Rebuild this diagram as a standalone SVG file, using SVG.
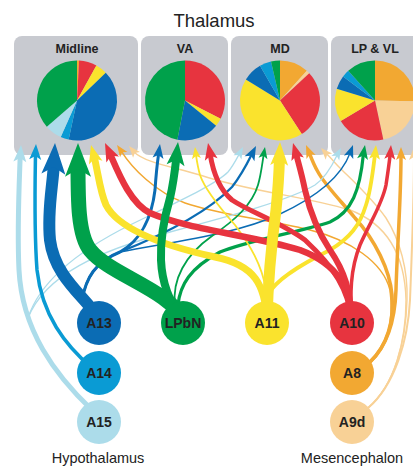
<svg xmlns="http://www.w3.org/2000/svg" xmlns:xlink="http://www.w3.org/1999/xlink" width="413" height="467" viewBox="0 0 413 467">
<style>
.box{fill:#c8cad0}
.t{font-family:"Liberation Sans",Arial,sans-serif;fill:#222;text-anchor:middle}
.bl{font-weight:bold;font-size:12.5px}
.nl{font-weight:bold;font-size:14px}
.rl{font-size:14.5px}
.c path{fill:none;stroke-linecap:butt}
.G{fill:#00a14b}.R{fill:#e7343f}.Y{fill:#fae32d}.DB{fill:#0b6cb4}.MB{fill:#0a9bd4}.LB{fill:#acdcea}.O{fill:#f2a832}.P{fill:#f8d196}
.g{stroke:#00a14b}.r{stroke:#e7343f}.y{stroke:#fae32d}.db{stroke:#0b6cb4}.mb{stroke:#0a9bd4}.lb{stroke:#acdcea}.o{stroke:#f2a832}.p{stroke:#f8d196}
</style>
<defs>
<path id="ah" d="M0,0 L5,13 L0,10 L-5,13 Z"/>
</defs>
<rect width="413" height="467" fill="#fff"/>
<text class="t" x="214" y="27" font-size="18.5">Thalamus</text>

<g id="midline">
<rect class="box" x="14" y="36" width="124" height="119" rx="8"/>
<text class="t bl" x="77" y="53">Midline</text>
<path class="O" d="M77,100.5 L77,60.5 A40,40 0 0 1 79.09,60.56 Z"/>
<path class="R" d="M77,100.5 L79.09,60.56 A40,40 0 0 1 96.39,65.52 Z"/>
<path class="Y" d="M77,100.5 L96.39,65.52 A40,40 0 0 1 105.77,72.71 Z"/>
<path class="DB" d="M77,100.5 L105.77,72.71 A40,40 0 0 1 68.68,139.62 Z"/>
<path class="MB" d="M77,100.5 L68.68,139.62 A40,40 0 0 1 60.73,137.04 Z"/>
<path class="LB" d="M77,100.5 L60.73,137.04 A40,40 0 0 1 46.81,126.74 Z"/>
<path class="G" d="M77,100.5 L46.81,126.74 A40,40 0 0 1 77,60.5 Z"/>
</g>
<g id="va">
<rect class="box" x="141" y="36" width="87" height="119" rx="8"/>
<text class="t bl" x="185" y="53">VA</text>
<path class="R" d="M185,100.5 L185,60.5 A40,40 0 0 1 220.64,118.66 Z"/>
<path class="Y" d="M185,100.5 L220.64,118.66 A40,40 0 0 1 216.09,125.67 Z"/>
<path class="DB" d="M185,100.5 L216.09,125.67 A40,40 0 0 1 177.37,139.76 Z"/>
<path class="G" d="M185,100.5 L177.37,139.76 A40,40 0 0 1 185,60.5 Z"/>
</g>
<g id="md">
<rect class="box" x="231" y="36" width="97" height="119" rx="8"/>
<text class="t bl" x="280" y="53">MD</text>
<path class="O" d="M280,100.5 L280,60.5 A40,40 0 0 1 306.77,70.78 Z"/>
<path class="P" d="M280,100.5 L306.77,70.78 A40,40 0 0 1 309.25,73.22 Z"/>
<path class="R" d="M280,100.5 L309.25,73.22 A40,40 0 0 1 301.79,134.05 Z"/>
<path class="Y" d="M280,100.5 L301.79,134.05 A40,40 0 0 1 245.90,79.60 Z"/>
<path class="DB" d="M280,100.5 L245.90,79.60 A40,40 0 0 1 260,65.86 Z"/>
<path class="MB" d="M280,100.5 L260,65.86 A40,40 0 0 1 271.0,61.53 Z"/>
<path class="G" d="M280,100.5 L271.0,61.53 A40,40 0 0 1 280,60.5 Z"/>
</g>
<g id="lpvl">
<rect class="box" x="331" y="36" width="92" height="119" rx="8"/>
<text class="t bl" x="375" y="53">LP &amp; VL</text>
<path class="O" d="M375,100.5 L375,60.5 A40,40 0 0 1 414.99,101.20 Z"/>
<path class="P" d="M375,100.5 L414.99,101.20 A40,40 0 0 1 383.32,139.62 Z"/>
<path class="R" d="M375,100.5 L383.32,139.62 A40,40 0 0 1 340.71,121.10 Z"/>
<path class="Y" d="M375,100.5 L340.71,121.10 A40,40 0 0 1 336.75,88.80 Z"/>
<path class="DB" d="M375,100.5 L336.75,88.80 A40,40 0 0 1 343.06,76.43 Z"/>
<path class="MB" d="M375,100.5 L343.06,76.43 A40,40 0 0 1 348.24,70.78 Z"/>
<path class="G" d="M375,100.5 L348.24,70.78 A40,40 0 0 1 375,60.5 Z"/>
</g>

<g id="connectors" class="c">
<!-- A9d -->
<path class="p" stroke-width="1.4" d="M368,408 C395,385 406,340 406,300 C405,260 390,225 350,210 C300,195 250,192 200,175 C165,165 145,162 133.9,151.9"/>
<path class="p" stroke-width="1.4" d="M368,408 C395,385 406,340 407,300 C408,270 400,240 386,218 C372,198 352,180 340,168 C335,163 331,158 326.2,153.6"/>
<path class="p" stroke-width="2" d="M368,408 C395,385 408,340 410,300 C412,250 414,200 414,155.5"/>
<!-- A8 -->
<path class="o" stroke-width="1.5" d="M370,362 C388,345 394,320 390,290 C383,262 350,240 310,230 C260,218 220,215 185,203 C155,192 132,168 121.4,151.3"/>
<path class="o" stroke-width="3.5" d="M370,362 C388,345 394,320 392,295 C390,270 375,240 355,218 C340,200 325,185 318,172 C314,165 312,160 309.3,152.8"/>
<path class="o" stroke-width="3.5" d="M370,362 C388,345 395,320 396,290 C397,250 401,200 401,155.5"/>
<!-- A15 thin -->
<path class="lb" stroke-width="1.3" d="M28,318 C40,280 80,250 130,225 C175,203 215,185 228,172 C233,166 236,160 239.4,153.8"/>
<path class="lb" stroke-width="1.3" d="M28,318 C45,275 100,250 170,232 C230,216 290,200 315,185 C325,178 332,166 337.3,154.7"/>
<!-- A13 thin -->
<path class="db" stroke-width="3" d="M82,300 C86,278 95,262 120,252 C142,240 152,215 155,190 C156,175 157,165 158.7,153.3"/>
<path class="db" stroke-width="2.3" d="M82,300 C86,278 95,262 120,252 C160,236 205,215 232,187 C240,177 246,166 251.8,154.3"/>
<path class="db" stroke-width="1.4" d="M82,300 C86,278 95,262 120,252 C170,242 235,235 280,214 C310,200 340,180 350.1,153"/>
<!-- LPbN thin -->
<path class="g" stroke-width="1.8" d="M175,305 C172,280 185,255 212,236 C235,220 252,205 258,185 C261,175 262,165 263.7,154.5"/>
<path class="g" stroke-width="3.2" d="M178,305 C180,285 190,268 220,252 C250,240 300,232 330,222 C352,212 360,190 363.4,154.2"/>
<!-- A11 thin -->
<path class="y" stroke-width="1.8" d="M266,290 C262,265 250,245 235,225 C220,208 205,190 200,175 C198,168 197,162 195.9,154.6"/>
<path class="y" stroke-width="3.8" d="M268,295 C275,280 300,265 330,250 C350,238 360,225 366,205 C371,190 373,170 375,154.3"/>
<!-- A10 -->
<path class="r" stroke-width="6.5" d="M352,320 C350,290 340,265 300,250 C250,235 190,230 150,213 C130,203 118,172 110,153.8"/>
<path class="r" stroke-width="5" d="M352,320 C348,290 335,268 305,240 C280,222 250,212 232,200 C220,190 213,172 210.1,153.9"/>
<path class="r" stroke-width="6" d="M352,320 C350,290 345,272 330,250 C318,232 310,212 305,190 C302,175 299,165 296,153.6"/>
<path class="r" stroke-width="3.5" d="M352,320 C350,295 350,270 360,245 C370,222 382,205 386,185 C388,172 389,165 390.2,154.3"/>
<!-- A11 thick -->
<path class="y" stroke-width="7" d="M267,320 C265,285 255,265 215,257 C160,245 118,228 106,205 C100,192 98,172 94.1,156.5"/>
<path class="y" stroke-width="11" d="M267,320 C268,280 272,240 276,210 C278,190 279,175 279.5,157.3"/>
<!-- LPbN to VA -->
<path class="g" stroke-width="8" d="M180,318 C170,300 162,285 161,260 C160,235 165,215 170,198 C173,185 175,170 176.4,157.2"/>
<!-- A15, A14 -->
<path class="lb" stroke-width="5" d="M92,410 C55,375 22,330 19,270 C17,230 19,190 20.2,156"/>
<path class="mb" stroke-width="3.5" d="M92,368 C65,345 42,315 37,270 C34,230 35,185 35.5,154.2"/>
<!-- A13 thick -->
<path class="db" stroke-width="12" d="M99,320 C90,300 55,280 50,240 C47,210 53,185 53.9,163.4"/>
<!-- LPbN thick -->
<path class="g" stroke-width="15" d="M183,320 C170,290 110,275 90,250 C78,235 78,200 78,165"/>
<!-- arrowheads -->
<use xlink:href="#ah" class="LB" transform="translate(21,145) rotate(4) scale(1.3)"/>
<use xlink:href="#ah" class="MB" transform="translate(36,144) rotate(3) scale(1.2)"/>
<use xlink:href="#ah" class="DB" transform="translate(55,143) rotate(3) scale(2.4)"/>
<use xlink:href="#ah" class="G" transform="translate(78,143) rotate(0) scale(2.6)"/>
<use xlink:href="#ah" class="Y" transform="translate(91,145) rotate(-15) scale(1.4)"/>
<use xlink:href="#ah" class="R" transform="translate(105,143) rotate(-25) scale(1.4)"/>
<use xlink:href="#ah" class="O" transform="translate(117,145) rotate(-35) scale(0.9)"/>
<use xlink:href="#ah" class="P" transform="translate(129,146) rotate(-40) scale(0.9)"/>
<use xlink:href="#ah" class="DB" transform="translate(160,144) rotate(8) scale(1.1)"/>
<use xlink:href="#ah" class="G" transform="translate(178,142) rotate(6) scale(1.8)"/>
<use xlink:href="#ah" class="Y" transform="translate(195,147) rotate(-7) scale(0.9)"/>
<use xlink:href="#ah" class="R" transform="translate(208,143) rotate(-11) scale(1.3)"/>
<use xlink:href="#ah" class="LB" transform="translate(243,147) rotate(28) scale(0.9)"/>
<use xlink:href="#ah" class="DB" transform="translate(256,146) rotate(27) scale(1.1)"/>
<use xlink:href="#ah" class="G" transform="translate(265,147) rotate(10) scale(0.9)"/>
<use xlink:href="#ah" class="Y" transform="translate(280,142) rotate(2) scale(1.8)"/>
<use xlink:href="#ah" class="R" transform="translate(293,143) rotate(-16) scale(1.3)"/>
<use xlink:href="#ah" class="O" transform="translate(306,145) rotate(-23) scale(1.0)"/>
<use xlink:href="#ah" class="P" transform="translate(321,148) rotate(-43) scale(0.9)"/>
<use xlink:href="#ah" class="LB" transform="translate(341,148) rotate(29) scale(0.9)"/>
<use xlink:href="#ah" class="DB" transform="translate(353,145) rotate(20) scale(1.0)"/>
<use xlink:href="#ah" class="G" transform="translate(365,145) rotate(10) scale(1.1)"/>
<use xlink:href="#ah" class="Y" transform="translate(376,145) rotate(6) scale(1.1)"/>
<use xlink:href="#ah" class="R" transform="translate(391,145) rotate(5) scale(1.1)"/>
<use xlink:href="#ah" class="O" transform="translate(401,147) rotate(0) scale(1.0)"/>
<use xlink:href="#ah" class="P" transform="translate(414,147) rotate(0) scale(1.0)"/>
</g>

<g id="A13"><circle class="DB" cx="99" cy="323" r="22"/><text class="t nl" x="99" y="328">A13</text></g>
<g id="A14"><circle class="MB" cx="99" cy="373" r="22"/><text class="t nl" x="99" y="378">A14</text></g>
<g id="A15"><circle class="LB" cx="99" cy="422" r="22"/><text class="t nl" x="99" y="427">A15</text></g>
<g id="LPbN"><circle class="G" cx="183" cy="323" r="22"/><text class="t nl" x="183" y="328">LPbN</text></g>
<g id="A11"><circle class="Y" cx="267" cy="323" r="22"/><text class="t nl" x="267" y="328">A11</text></g>
<g id="A10"><circle class="R" cx="352" cy="323" r="22"/><text class="t nl" x="352" y="328">A10</text></g>
<g id="A8"><circle class="O" cx="352" cy="373" r="22"/><text class="t nl" x="352" y="378">A8</text></g>
<g id="A9d"><circle class="P" cx="352" cy="422" r="22"/><text class="t nl" x="352" y="427">A9d</text></g>

<text class="t rl" x="98" y="463">Hypothalamus</text>
<text class="t rl" x="352" y="463">Mesencephalon</text>
</svg>
